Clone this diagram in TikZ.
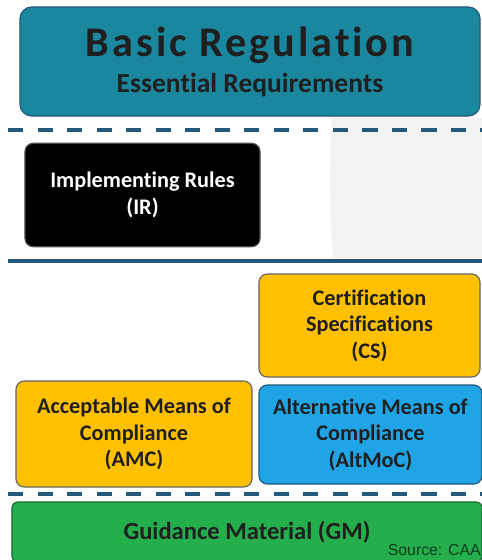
\documentclass[tikz,border=0pt]{standalone}
\usepackage{fontspec}
\setmainfont{Carlito}[Ligatures=NoCommon]
\newfontfamily\srcfont{Liberation Sans}
\usetikzlibrary{positioning}
\definecolor{tealbox}{HTML}{1A879E}
\definecolor{tealline}{HTML}{22587A}
\definecolor{amber}{HTML}{FFC000}
\definecolor{skyblue}{HTML}{1FA5E6}
\definecolor{leafgreen}{HTML}{24AE4C}
\definecolor{panelgrey}{HTML}{F2F2F2}

\begin{document}
\begin{tikzpicture}[x=0.03cm,y=-0.03cm,
	box/.style={rounded corners=7pt,line width=1pt,align=center,inner sep=0pt,
		font=\bfseries\fontsize{19}{22.6}\selectfont,text=black!88},
	divider/.style={tealline,line width=2.6pt},
	dashdiv/.style={divider,dash pattern=on 13pt off 12.2pt}]
	
	% page and grey panel
	\useasboundingbox (0,0) rectangle (482,560);
	\fill[panelgrey] (332,118) .. controls (329,170) and (330,215) .. (333,258) -- (482,258) -- (482,118) -- cycle;
	
	% top box
	\node[box,fill=tealbox,draw=tealline,minimum width=13.8cm,minimum height=3.27cm,rounded corners=10pt] (basic) at (250,61.5)
		{{\fontsize{36}{40}\selectfont\addfontfeatures{LetterSpace=7}Basic Regulation}\\[8pt]
		 {\fontsize{23.5}{24}\selectfont Essential Requirements}};
	
	% dashed separator
	\draw[dashdiv] (8,130) -- (482,130);
	
	% implementing rules
	\node[box,fill=black,draw=black!70,text=white,minimum width=7.05cm,minimum height=3.1cm] (ir) at (142.5,195)
		{Implementing Rules\\(IR)};
	
	% solid separator
	\draw[divider] (8,261) -- (482,261);
	
	% certification specifications
	\node[box,fill=amber,draw=black!60,minimum width=6.63cm,minimum height=3.09cm] (cs) at (369.5,325.5)
		{Certification\\Specifications\\(CS)};
	
	% means of compliance
	\node[box,fill=amber,draw=black!60,minimum width=7.08cm,minimum height=3.18cm] (amc) at (134,434)
		{Acceptable Means of\\Compliance\\(AMC)};
	\node[box,fill=skyblue,draw=tealline,minimum width=6.69cm,minimum height=2.97cm] (altmoc) at (370.5,434.5)
		{Alternative Means of\\Compliance\\(AltMoC)};
	
	% dashed separator
	\draw[dashdiv] (8,494) -- (482,494);
	
	% guidance material
	\node[box,fill=leafgreen,draw=leafgreen!60!black,minimum width=14.1cm,minimum height=1.8cm,rounded corners=5pt] (gm) at (247,532)
		{\fontsize{21}{24}\selectfont Guidance Material (GM)};
	
	% source
	\node[anchor=base east,inner sep=0pt,font=\srcfont\fontsize{13.5}{16}\selectfont,text=leafgreen!35!black] (source) at (481,555) {Source: CAA};
	
\end{tikzpicture}
\end{document}
